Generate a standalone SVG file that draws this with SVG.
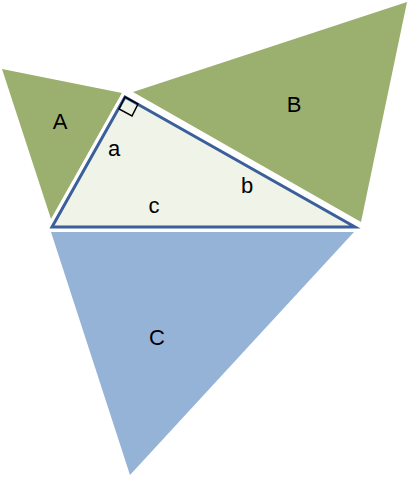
<svg xmlns="http://www.w3.org/2000/svg" width="409" height="479" viewBox="0 0 409 479">
<style>.g{fill:#9bb06e}.t{font-family:"Liberation Sans",Arial,sans-serif;font-size:22px;fill:#000;text-anchor:middle}</style>
<rect width="409" height="479" fill="#fff"/>
<g id="A"><polygon class="g" points="2,69 122,93 51,219"/><text class="t" x="60" y="129">A</text></g>
<g id="B"><polygon class="g" points="133,92 407,2 361,222"/><text class="t" x="294" y="112">B</text></g>
<g id="C"><polygon points="51,232 354,232 130,475" fill="#95b3d7"/><text class="t" x="157" y="345">C</text></g>
<g id="T"><polygon points="125,97 52,227 355,227" fill="#f0f3e7" stroke="#fff" stroke-width="9" stroke-linejoin="miter"/>
<polygon points="125,97 52,227 355,227" fill="#f0f3e7" stroke="#3a5f9a" stroke-width="3"/>
<polygon points="125,97 138,104 132,116 119,109" fill="none" stroke="#000" stroke-width="1.5"/>
<text class="t" x="114" y="156">a</text><text class="t" x="247" y="193">b</text><text class="t" x="154" y="213">c</text></g>
</svg>
